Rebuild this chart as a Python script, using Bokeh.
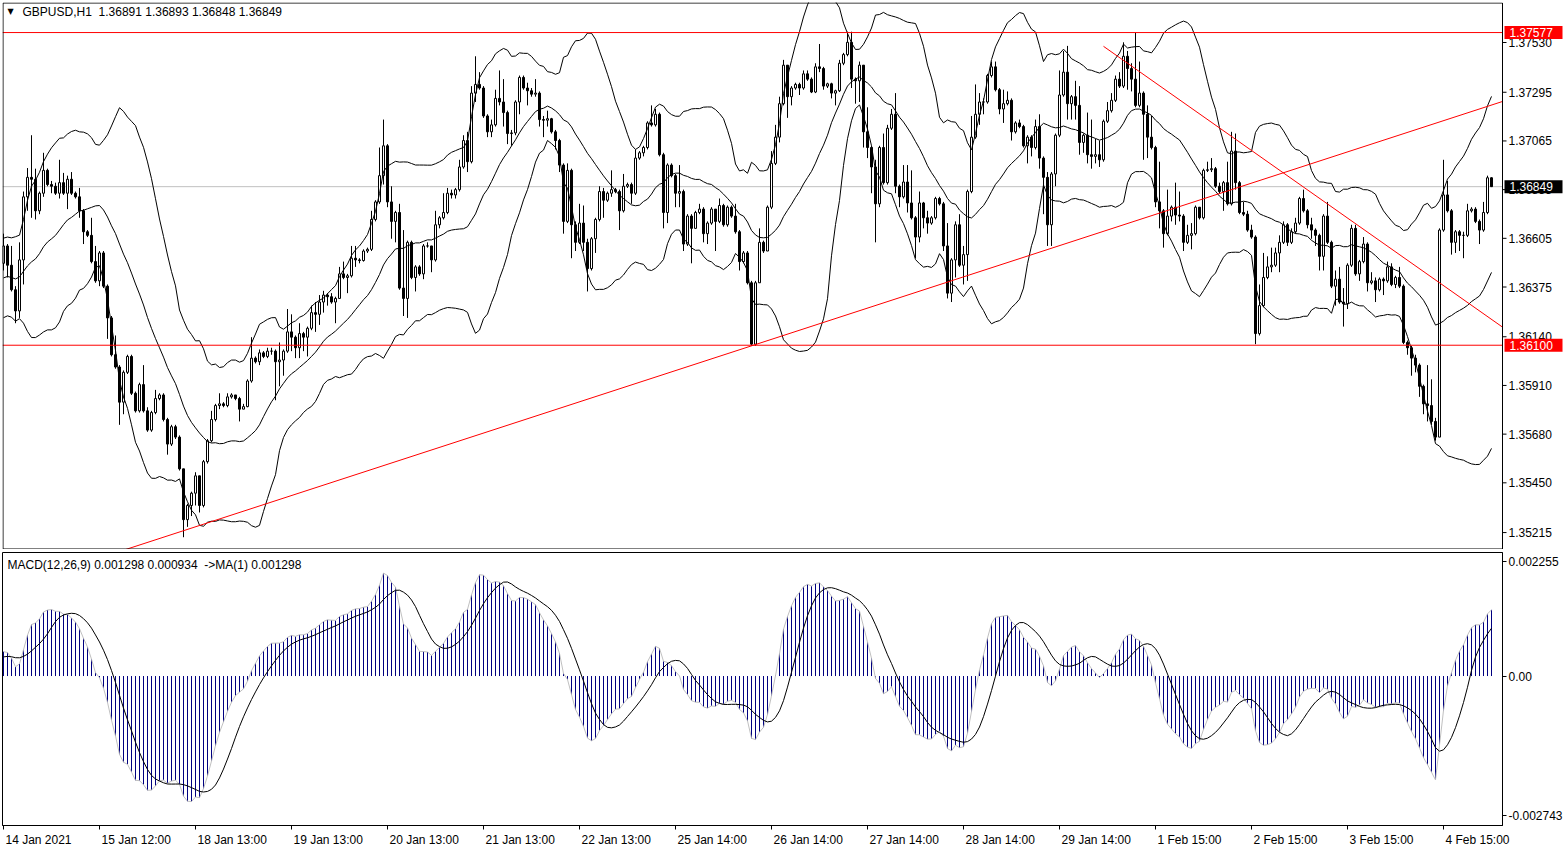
import numpy as np
import pandas as pd
from bokeh.plotting import figure
from bokeh.layouts import column
from bokeh.core.properties import value
from bokeh.models import (ColumnDataSource, Range1d, FixedTicker, Label, BoxAnnotation,
                          CustomJSTickFormatter)
from bokeh.embed import file_html
from bokeh.resources import INLINE

FONT = "Liberation Sans"
NB = "\u00a0"

# ------------------------------------------------------------------ data
symbol_title = "GBPUSD,H1" + NB + " 1.36891 1.36893 1.36848 1.36849"
macd_title = "MACD(12,26,9) 0.001298 0.000934" + NB + " ->MA(1) 0.001298"

first_open = 1.36487

closes = [
    1.36569, 1.36478, 1.36362, 1.36262, 1.36503, 1.36801, 1.36893, 1.36884, 1.36735, 1.36818,
    1.36926, 1.36859, 1.36851, 1.36818, 1.36868, 1.36818, 1.36884, 1.36818, 1.36801, 1.36735,
    1.36636, 1.36619, 1.36495, 1.36404, 1.36536, 1.36379, 1.36229, 1.36055, 1.35997, 1.35831,
    1.35972, 1.36047, 1.35873, 1.35790, 1.35914, 1.35790, 1.35699, 1.35782, 1.35848, 1.35865,
    1.35749, 1.35633, 1.35715, 1.35666, 1.35516, 1.35276, 1.35343, 1.35401, 1.35483, 1.35343,
    1.35550, 1.35649, 1.35749, 1.35815, 1.35823, 1.35815, 1.35856, 1.35865, 1.35848, 1.35798,
    1.35810, 1.35931, 1.36039, 1.36022, 1.36064, 1.36047, 1.36072, 1.36072, 1.36022, 1.36030,
    1.36072, 1.36163, 1.36138, 1.36088, 1.36155, 1.36138, 1.36180, 1.36254, 1.36246, 1.36304,
    1.36337, 1.36329, 1.36304, 1.36321, 1.36437, 1.36420, 1.36428, 1.36511, 1.36503, 1.36500,
    1.36545, 1.36553, 1.36694, 1.36777, 1.36901, 1.37042, 1.36777, 1.36685, 1.36727, 1.36370,
    1.36321, 1.36586, 1.36420, 1.36470, 1.36437, 1.36569, 1.36569, 1.36503, 1.36669, 1.36702,
    1.36727, 1.36818, 1.36810, 1.36835, 1.36942, 1.37067, 1.36967, 1.37291, 1.37332, 1.37315,
    1.37183, 1.37108, 1.37141, 1.37266, 1.37249, 1.37199, 1.37100, 1.37103, 1.37249, 1.37365,
    1.37315, 1.37302, 1.37286, 1.37291, 1.37166, 1.37163, 1.37170, 1.37108, 1.37067, 1.36951,
    1.36685, 1.36926, 1.36669, 1.36586, 1.36677, 1.36586, 1.36462, 1.36603, 1.36694, 1.36826,
    1.36785, 1.36818, 1.36835, 1.36826, 1.36735, 1.36851, 1.36859, 1.36818, 1.36984, 1.37009,
    1.37034, 1.37150, 1.37141, 1.37191, 1.37000, 1.36727, 1.36951, 1.36901, 1.36818, 1.36826,
    1.36578, 1.36710, 1.36652, 1.36727, 1.36743, 1.36627, 1.36677, 1.36743, 1.36685, 1.36760,
    1.36669, 1.36752, 1.36710, 1.36636, 1.36495, 1.36536, 1.36395, 1.36105, 1.36395, 1.36586,
    1.36545, 1.36752, 1.36959, 1.37083, 1.37241, 1.37423, 1.37274, 1.37315, 1.37332, 1.37315,
    1.37382, 1.37357, 1.37296, 1.37415, 1.37407, 1.37324, 1.37335, 1.37291, 1.37302, 1.37432,
    1.37473, 1.37531, 1.37357, 1.37349, 1.37423, 1.37108, 1.37034, 1.36942, 1.36768, 1.37034,
    1.36868, 1.37125, 1.37191, 1.36851, 1.36801, 1.36871, 1.36772, 1.36702, 1.36611, 1.36772,
    1.36702, 1.36677, 1.36702, 1.36793, 1.36768, 1.36569, 1.36346, 1.36503, 1.36669, 1.36478,
    1.36528, 1.36826, 1.37083, 1.37191, 1.37249, 1.37249, 1.37374, 1.37415, 1.37307, 1.37216,
    1.37241, 1.37257, 1.37108, 1.37150, 1.37133, 1.37042, 1.37083, 1.37034, 1.37133, 1.36984,
    1.36893, 1.36669, 1.36909, 1.37092, 1.37282, 1.37390, 1.37241, 1.37274, 1.37233, 1.37058,
    1.37092, 1.37000, 1.36992, 1.37000, 1.36976, 1.37158, 1.37208, 1.37257, 1.37357, 1.37324,
    1.37465, 1.37407, 1.37357, 1.37233, 1.37291, 1.37191, 1.37083, 1.37034, 1.36777, 1.36735,
    1.36627, 1.36710, 1.36752, 1.36715, 1.36710, 1.36586, 1.36619, 1.36627, 1.36752, 1.36702,
    1.36926, 1.36929, 1.36934, 1.36851, 1.36826, 1.36868, 1.36768, 1.37017, 1.36868, 1.36727,
    1.36719, 1.36644, 1.36611, 1.36155, 1.36287, 1.36420, 1.36470, 1.36478, 1.36536, 1.36586,
    1.36669, 1.36586, 1.36636, 1.36677, 1.36793, 1.36735, 1.36669, 1.36644, 1.36619, 1.36520,
    1.36710, 1.36586, 1.36379, 1.36412, 1.36304, 1.36296, 1.36478, 1.36652, 1.36437, 1.36495,
    1.36578, 1.36395, 1.36404, 1.36362, 1.36412, 1.36404, 1.36470, 1.36387, 1.36420, 1.36379,
    1.36113, 1.36088, 1.36039, 1.36006, 1.35906, 1.35823, 1.35815, 1.35740, 1.35666, 1.36644,
    1.36810, 1.36735, 1.36586, 1.36636, 1.36619, 1.36619, 1.36735, 1.36743, 1.36685, 1.36644,
    1.36727, 1.36891, 1.36849,
]

highs = [
    1.36627, 1.36578, 1.36569, 1.36379, 1.36586, 1.36826, 1.36937, 1.37092, 1.36934, 1.36826,
    1.37009, 1.36934, 1.36876, 1.36868, 1.36976, 1.36914, 1.36901, 1.36918, 1.36826, 1.36843,
    1.36743, 1.36644, 1.36702, 1.36569, 1.36545, 1.36545, 1.36387, 1.36238, 1.36146, 1.36006,
    1.35981, 1.36055, 1.36055, 1.35881, 1.35923, 1.36006, 1.35807, 1.35790, 1.35889, 1.35873,
    1.35873, 1.35757, 1.35724, 1.35724, 1.35674, 1.35516, 1.35351, 1.35408, 1.35500, 1.35483,
    1.35558, 1.35657, 1.35790, 1.35823, 1.35873, 1.35831, 1.35873, 1.35873, 1.35865, 1.35856,
    1.35823, 1.35939, 1.36138, 1.36047, 1.36080, 1.36072, 1.36088, 1.36088, 1.36080, 1.36113,
    1.36080, 1.36271, 1.36246, 1.36146, 1.36204, 1.36163, 1.36188, 1.36287, 1.36304, 1.36337,
    1.36357, 1.36346, 1.36346, 1.36329, 1.36470, 1.36495, 1.36437, 1.36569, 1.36569, 1.36511,
    1.36553, 1.36561, 1.36735, 1.36785, 1.37034, 1.37166, 1.37050, 1.36851, 1.36735, 1.36768,
    1.36644, 1.36594, 1.36594, 1.36478, 1.36478, 1.36578, 1.36586, 1.36569, 1.36735, 1.36710,
    1.36818, 1.36843, 1.36835, 1.36843, 1.36976, 1.37092, 1.37108, 1.37324, 1.37465, 1.37390,
    1.37324, 1.37191, 1.37166, 1.37307, 1.37398, 1.37357, 1.37208, 1.37117, 1.37257, 1.37374,
    1.37374, 1.37340, 1.37315, 1.37357, 1.37299, 1.37183, 1.37208, 1.37174, 1.37117, 1.37075,
    1.36959, 1.36959, 1.36934, 1.36685, 1.36768, 1.36760, 1.36603, 1.36611, 1.36702, 1.36851,
    1.36843, 1.36826, 1.36926, 1.36843, 1.36835, 1.36909, 1.36868, 1.36868, 1.37025, 1.37017,
    1.37042, 1.37158, 1.37233, 1.37216, 1.37199, 1.37009, 1.36959, 1.36959, 1.36909, 1.36951,
    1.36835, 1.36719, 1.36719, 1.36735, 1.36768, 1.36752, 1.36685, 1.36752, 1.36743, 1.36793,
    1.36768, 1.36760, 1.36760, 1.36768, 1.36644, 1.36545, 1.36545, 1.36404, 1.36404, 1.36652,
    1.36594, 1.36760, 1.37017, 1.37141, 1.37274, 1.37448, 1.37423, 1.37324, 1.37340, 1.37340,
    1.37398, 1.37398, 1.37365, 1.37432, 1.37523, 1.37415, 1.37340, 1.37340, 1.37307, 1.37448,
    1.37481, 1.37581, 1.37581, 1.37365, 1.37440, 1.37423, 1.37224, 1.37042, 1.36976, 1.37042,
    1.37100, 1.37141, 1.37216, 1.37291, 1.36859, 1.36951, 1.36951, 1.36926, 1.36710, 1.36826,
    1.36777, 1.36735, 1.36710, 1.36801, 1.36801, 1.36777, 1.36677, 1.36511, 1.36685, 1.36719,
    1.36569, 1.36835, 1.37183, 1.37332, 1.37291, 1.37266, 1.37382, 1.37440, 1.37440, 1.37315,
    1.37307, 1.37299, 1.37266, 1.37158, 1.37166, 1.37141, 1.37092, 1.37092, 1.37166, 1.37191,
    1.36992, 1.36918, 1.36918, 1.37100, 1.37398, 1.37490, 1.37514, 1.37282, 1.37349, 1.37324,
    1.37100, 1.37199, 1.37166, 1.37075, 1.37067, 1.37166, 1.37249, 1.37291, 1.37374, 1.37390,
    1.37531, 1.37490, 1.37432, 1.37577, 1.37440, 1.37299, 1.37233, 1.37183, 1.37042, 1.36967,
    1.36743, 1.36835, 1.36760, 1.36868, 1.36826, 1.36719, 1.36669, 1.36677, 1.36760, 1.36752,
    1.36934, 1.36967, 1.36984, 1.36942, 1.36868, 1.36876, 1.36967, 1.37108, 1.37100, 1.36876,
    1.36777, 1.36735, 1.36669, 1.36619, 1.36387, 1.36536, 1.36520, 1.36561, 1.36561, 1.36619,
    1.36685, 1.36677, 1.36652, 1.36702, 1.36801, 1.36835, 1.36743, 1.36702, 1.36652, 1.36627,
    1.36719, 1.36777, 1.36594, 1.36453, 1.36470, 1.36370, 1.36487, 1.36669, 1.36669, 1.36503,
    1.36611, 1.36586, 1.36445, 1.36420, 1.36420, 1.36420, 1.36495, 1.36487, 1.36428, 1.36470,
    1.36387, 1.36122, 1.36097, 1.36055, 1.36014, 1.35914, 1.36006, 1.35939, 1.35757, 1.36652,
    1.36976, 1.36876, 1.36743, 1.36644, 1.36644, 1.36636, 1.36768, 1.36752, 1.36752, 1.36694,
    1.36777, 1.36901, 1.36893,
]

lows = [
    1.36453, 1.36420, 1.36354, 1.36204, 1.36229, 1.36387, 1.36735, 1.36702, 1.36694, 1.36719,
    1.36801, 1.36851, 1.36818, 1.36810, 1.36793, 1.36810, 1.36743, 1.36810, 1.36793, 1.36702,
    1.36578, 1.36611, 1.36487, 1.36395, 1.36379, 1.36370, 1.36130, 1.36047, 1.35989, 1.35724,
    1.35774, 1.35964, 1.35865, 1.35782, 1.35782, 1.35782, 1.35691, 1.35691, 1.35774, 1.35840,
    1.35740, 1.35583, 1.35624, 1.35657, 1.35508, 1.35193, 1.35242, 1.35293, 1.35343, 1.35310,
    1.35334, 1.35541, 1.35641, 1.35740, 1.35798, 1.35807, 1.35807, 1.35848, 1.35840, 1.35740,
    1.35798, 1.35807, 1.35923, 1.36014, 1.36006, 1.36039, 1.36039, 1.36055, 1.35840, 1.35906,
    1.35956, 1.36064, 1.36072, 1.36039, 1.36039, 1.36072, 1.36047, 1.36171, 1.36163, 1.36196,
    1.36254, 1.36287, 1.36296, 1.36204, 1.36321, 1.36412, 1.36346, 1.36420, 1.36470, 1.36487,
    1.36495, 1.36536, 1.36545, 1.36685, 1.36768, 1.36859, 1.36752, 1.36603, 1.36586, 1.36362,
    1.36238, 1.36229, 1.36412, 1.36354, 1.36428, 1.36412, 1.36561, 1.36445, 1.36495, 1.36652,
    1.36694, 1.36719, 1.36793, 1.36793, 1.36826, 1.36934, 1.36918, 1.36959, 1.37249, 1.37307,
    1.37174, 1.37083, 1.37083, 1.37133, 1.37233, 1.37133, 1.37050, 1.37042, 1.37092, 1.37191,
    1.37307, 1.37233, 1.37274, 1.37274, 1.37133, 1.37083, 1.37133, 1.37100, 1.37025, 1.36918,
    1.36627, 1.36677, 1.36511, 1.36545, 1.36578, 1.36545, 1.36354, 1.36453, 1.36536, 1.36685,
    1.36702, 1.36777, 1.36801, 1.36818, 1.36644, 1.36727, 1.36843, 1.36768, 1.36810, 1.36976,
    1.36992, 1.37025, 1.37133, 1.37133, 1.36992, 1.36652, 1.36677, 1.36893, 1.36752, 1.36752,
    1.36545, 1.36569, 1.36487, 1.36652, 1.36719, 1.36586, 1.36578, 1.36669, 1.36545, 1.36677,
    1.36660, 1.36660, 1.36702, 1.36627, 1.36453, 1.36487, 1.36387, 1.36097, 1.36097, 1.36395,
    1.36536, 1.36545, 1.36743, 1.36951, 1.37058, 1.37233, 1.37174, 1.37233, 1.37307, 1.37282,
    1.37307, 1.37349, 1.37291, 1.37291, 1.37390, 1.37307, 1.37315, 1.37266, 1.37233, 1.37296,
    1.37423, 1.37465, 1.37315, 1.37241, 1.37249, 1.37034, 1.36984, 1.36818, 1.36586, 1.36752,
    1.36859, 1.36859, 1.37117, 1.36818, 1.36752, 1.36793, 1.36727, 1.36694, 1.36511, 1.36586,
    1.36652, 1.36627, 1.36669, 1.36694, 1.36760, 1.36545, 1.36321, 1.36304, 1.36420, 1.36470,
    1.36387, 1.36404, 1.36818, 1.37075, 1.37141, 1.37191, 1.37241, 1.37365, 1.37299, 1.37191,
    1.37150, 1.37233, 1.37067, 1.37100, 1.37125, 1.37034, 1.36959, 1.36992, 1.37025, 1.36934,
    1.36719, 1.36569, 1.36569, 1.36851, 1.37083, 1.37274, 1.37166, 1.37166, 1.37166, 1.37000,
    1.37009, 1.36959, 1.36934, 1.36959, 1.36942, 1.36967, 1.37150, 1.37199, 1.37249, 1.37315,
    1.37315, 1.37307, 1.37299, 1.37224, 1.37224, 1.36976, 1.36984, 1.37025, 1.36752, 1.36652,
    1.36561, 1.36619, 1.36685, 1.36669, 1.36685, 1.36545, 1.36578, 1.36553, 1.36619, 1.36694,
    1.36694, 1.36918, 1.36918, 1.36843, 1.36818, 1.36735, 1.36760, 1.36760, 1.36835, 1.36719,
    1.36710, 1.36636, 1.36603, 1.36105, 1.36146, 1.36279, 1.36412, 1.36445, 1.36470, 1.36445,
    1.36578, 1.36569, 1.36578, 1.36627, 1.36669, 1.36727, 1.36652, 1.36603, 1.36569, 1.36453,
    1.36453, 1.36578, 1.36370, 1.36287, 1.36296, 1.36188, 1.36271, 1.36470, 1.36428, 1.36404,
    1.36487, 1.36354, 1.36387, 1.36304, 1.36354, 1.36337, 1.36395, 1.36379, 1.36370, 1.36370,
    1.36105, 1.36055, 1.35956, 1.35972, 1.35856, 1.35774, 1.35740, 1.35724, 1.35649, 1.35666,
    1.36636, 1.36727, 1.36528, 1.36536, 1.36545, 1.36511, 1.36611, 1.36727, 1.36677, 1.36578,
    1.36636, 1.36719, 1.36848,
]

# closes of the hours just before the visible window (not drawn); estimated from the
# Bollinger / MACD levels at the left edge so that the indicators are warmed up
pre_closes = [
    1.3628, 1.3622, 1.3631, 1.3637, 1.3626, 1.3619, 1.3630, 1.3642, 1.3636, 1.3628,
    1.3625, 1.3634, 1.3646, 1.3640, 1.3631, 1.3627, 1.3638, 1.3651, 1.3645, 1.3632,
    1.3628, 1.3641, 1.3655, 1.3649, 1.3637, 1.3630, 1.3644, 1.3658, 1.3650, 1.3643,
]

time_labels = ["14 Jan 2021", "15 Jan 12:00", "18 Jan 13:00", "19 Jan 13:00",
               "20 Jan 13:00", "21 Jan 13:00", "22 Jan 13:00", "25 Jan 14:00",
               "26 Jan 14:00", "27 Jan 14:00", "28 Jan 14:00", "29 Jan 14:00",
               "1 Feb 15:00", "2 Feb 15:00", "3 Feb 15:00", "4 Feb 15:00"]
bars_per_label = 24

price_ticks = [1.37530, 1.37295, 1.37065, 1.36835, 1.36605, 1.36375,
               1.36140, 1.35910, 1.35680, 1.35450, 1.35215]
macd_ticks = [0.002255, 0.0, -0.002743]

resistance_level = 1.37577
support_level = 1.36100
bid_price = 1.36849
rising_line = [(46, 1.35230), (187, 1.36097)]     # extended both ways
falling_line = [(275, 1.37512), (312, 1.37020)]   # ray to the right

# ------------------------------------------------------------------ derived
n = len(closes)
idx = np.arange(n)
o = np.array([first_open] + closes[:-1])
c = np.array(closes)
h = np.maximum(np.array(highs), np.maximum(o, c))
l = np.minimum(np.array(lows), np.minimum(o, c))

full = pd.Series(pre_closes + closes)
k = len(pre_closes)
mid = full.rolling(20).mean()
sd = full.rolling(20).std(ddof=0)
bb_mid = mid.values[k:]
bb_up = (mid + 2 * sd).values[k:]
bb_lo = (mid - 2 * sd).values[k:]
ema12 = full.ewm(span=12, adjust=False).mean()
ema26 = full.ewm(span=26, adjust=False).mean()
macd_full = ema12 - ema26
signal_full = macd_full.rolling(9).mean()
macd = macd_full.values[k:]
signal = signal_full.values[k:]

# ------------------------------------------------------------------ geometry
PX_PER_BAR = 4.0
CHART_W = 1500          # width of the bar area (both panels)
SCALE_W = 63            # price scale drawn inside the upper panel's frame
X0 = -0.25
edge = X0 + CHART_W / PX_PER_BAR            # right border of the bar area
P1_H = 547
price_range = Range1d(1.35135, 1.37719)
ppx = (price_range.end - price_range.start) / P1_H
x1_range = Range1d(X0, X0 + (CHART_W + SCALE_W) / PX_PER_BAR)
x2_range = Range1d(X0, edge)
macd_range = Range1d(-0.00294, 0.00243)
TXT = dict(text_font=value(FONT), text_font_size="12px")

# ------------------------------------------------------------------ price panel
p1 = figure(frame_width=CHART_W + SCALE_W, frame_height=P1_H, x_range=x1_range,
            y_range=price_range, output_backend="svg", toolbar_location=None,
            x_axis_location=None, y_axis_location=None,
            min_border_left=2, min_border_right=0, min_border_top=2, min_border_bottom=0,
            outline_line_color=None,
            background_fill_color="white", border_fill_color="white")
p1.grid.visible = False

# bid line
p1.segment(x0=[X0], y0=[bid_price], x1=[edge], y1=[bid_price], line_color="#c0c0c0", line_width=1)

src = ColumnDataSource(dict(x=idx, top=np.maximum(o, c), bottom=np.minimum(o, c),
                            high=h, low=l,
                            fill=["white" if cc >= oo else "black" for oo, cc in zip(o, c)]))
p1.segment(x0="x", y0="low", x1="x", y1="high", source=src, line_color="black", line_width=1)
p1.vbar(x="x", width=0.5, top="top", bottom="bottom", source=src,
        fill_color="fill", line_color="black", line_width=1)

for band in (bb_up, bb_mid, bb_lo):
    p1.line(idx, band, line_color="black", line_width=1)

# horizontal levels
p1.segment(x0=[X0, X0], y0=[resistance_level, support_level], x1=[edge, edge],
           y1=[resistance_level, support_level], line_color="#ff0000", line_width=1)

# trend lines, cut at the price scale
(xa, ya), (xb, yb) = rising_line
s1 = (yb - ya) / (xb - xa)
xl = X0 - 1
p1.segment(x0=[xl], y0=[ya + s1 * (xl - xa)], x1=[edge], y1=[ya + s1 * (edge - xa)],
           line_color="#ff0000", line_width=1)
(xa, ya), (xb, yb) = falling_line
s2 = (yb - ya) / (xb - xa)
p1.segment(x0=[xa], y0=[ya], x1=[edge], y1=[ya + s2 * (edge - xa)],
           line_color="#ff0000", line_width=1)

# frame of the bar area
p1.add_layout(BoxAnnotation(left=X0 + 0.5 / PX_PER_BAR, right=edge,
                            bottom=price_range.start + 0.5 * ppx,
                            top=price_range.end - 0.5 * ppx,
                            fill_alpha=0, line_color="black", line_width=1, line_alpha=1))

# price scale
p1.segment(x0=[edge] * len(price_ticks), y0=price_ticks,
           x1=[edge + 4 / PX_PER_BAR] * len(price_ticks), y1=price_ticks,
           line_color="black", line_width=1)
p1.text(x=[edge] * len(price_ticks), y=price_ticks, text=[f"{t:.5f}" for t in price_ticks],
        x_offset=6, text_color="black", text_baseline="middle", text_align="left", **TXT)

tag_vals = [resistance_level, support_level, bid_price]
tag_cols = ["#ff0000", "#ff0000", "black"]
p1.rect(x=[edge + 31 / PX_PER_BAR] * 3, y=tag_vals, width=58, height=13,
        width_units="screen", height_units="screen",
        fill_color=tag_cols, line_color=None)
p1.text(x=[edge] * 3, y=tag_vals, text=[f"{v:.5f}" for v in tag_vals], x_offset=7,
        text_color="white", text_baseline="middle", text_align="left", **TXT)

p1.add_layout(Label(x=X0, y=price_range.end, x_offset=8, y_offset=-9, text="\u25bc",
                    text_font="DejaVu Sans", text_font_size="8px", text_color="black",
                    text_baseline="middle", text_align="center"))
p1.add_layout(Label(x=X0, y=price_range.end, x_offset=20, y_offset=-9,
                    text=symbol_title, text_font=FONT, text_font_size="12px",
                    text_color="black", text_baseline="middle", text_align="left"))

# ------------------------------------------------------------------ MACD panel
p2 = figure(frame_width=CHART_W, frame_height=273, x_range=x2_range, y_range=macd_range,
            output_backend="svg", toolbar_location=None,
            x_axis_location="below", y_axis_location="right",
            min_border_left=2, min_border_right=62, min_border_top=3, min_border_bottom=23,
            outline_line_color="black", outline_line_width=1,
            background_fill_color="white", border_fill_color="white")
p2.grid.visible = False

p2.segment(x0=idx, y0=np.zeros(n), x1=idx, y1=macd, line_color="#000080", line_width=1)
p2.line(idx, macd, line_color="#c0c0c0", line_width=1)
p2.line(idx, signal, line_color="black", line_width=1)

ay2 = p2.yaxis[0]
ay2.ticker = FixedTicker(ticks=macd_ticks)
ay2.formatter = CustomJSTickFormatter(
    code="return Math.abs(tick) < 1e-9 ? '0.00' : tick.toFixed(6);")
ay2.major_label_text_font = FONT
ay2.major_label_text_font_size = "12px"
ay2.major_label_text_color = "black"
ay2.major_tick_out = 4
ay2.major_tick_in = 0
ay2.minor_tick_out = 0
ay2.minor_tick_in = 0
ay2.major_label_standoff = 2
ay2.axis_line_color = "black"
ay2.major_tick_line_color = "black"

CHAR_W = {" ": 3.33, ":": 3.33, "J": 6.0, "F": 7.33}


def text_w(s):
    return sum(CHAR_W.get(ch, 6.67) for ch in s)


tick_bars = [i * bars_per_label for i in range(len(time_labels))]
centers = [b + (2 + text_w(s) / 2) / PX_PER_BAR for b, s in zip(tick_bars, time_labels)]
ax2 = p2.xaxis[0]
ax2.ticker = FixedTicker(ticks=centers, minor_ticks=tick_bars)
ax2.formatter = CustomJSTickFormatter(args=dict(pos=centers, names=time_labels), code="""
for (let i = 0; i < pos.length; i++) { if (Math.abs(pos[i] - tick) < 1e-6) return names[i]; }
return "";
""")
ax2.major_tick_out = 0
ax2.major_tick_in = 0
ax2.major_tick_line_color = None
ax2.minor_tick_out = 4
ax2.minor_tick_in = 0
ax2.minor_tick_line_color = "black"
ax2.major_label_standoff = 3
ax2.major_label_text_font = FONT
ax2.major_label_text_font_size = "12px"
ax2.major_label_text_color = "black"
ax2.axis_line_color = "black"

p2.add_layout(Label(x=X0, y=macd_range.end, x_offset=5, y_offset=-12,
                    text=macd_title, text_font=FONT, text_font_size="12px",
                    text_color="black", text_baseline="middle", text_align="left"))

layout = column(p1, p2, spacing=0)
open("out.html", "w", encoding="utf-8").write(file_html(layout, INLINE))
